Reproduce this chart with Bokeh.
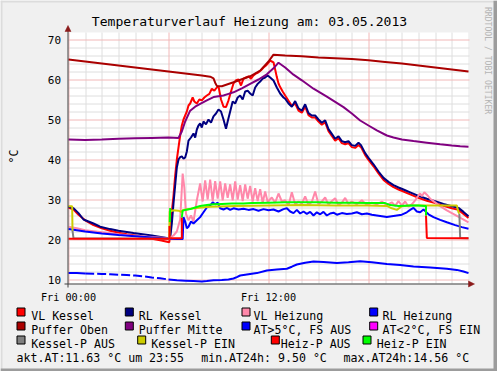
import math
from bokeh.plotting import figure
from bokeh.core.properties import value
from bokeh.embed import file_html
from bokeh.resources import INLINE

NAN = float("nan")
# ---------------- data (hours since 00:00, degC) ----------------
vlk_t = [0, 0.3, 0.6, 1.0, 1.5, 2.0, 2.5, 3.0, 3.5, 4.0, 4.5, 5.0, 5.5, 6.05, 6.1, 6.2, 6.3, 6.4, 6.5,
         6.6, 6.7, 6.8, 6.9, 7.0, 7.1, 7.2, 7.3, 7.45, 7.55, 7.7, 7.85, 8.0, 8.15, 8.3, 8.45, 8.6,
         8.75, 8.9, 9.0, 9.15, 9.3, 9.45, 9.6, 9.75, 9.9, 10.05, 10.2, 10.35, 10.5, 10.65, 10.8,
         10.95, 11.1, 11.25, 11.4, 11.55, 11.7, 11.85, 12.0, 12.1, 12.2, 12.3, 12.4, 12.5, 12.6,
         12.7, 12.85, 13.0, 13.2, 13.4, 13.6, 13.8, 14.0, 14.2, 14.4, 14.6, 14.8, 15.0, 15.2, 15.4,
         15.6, 15.8, 16.0, 16.2, 16.4, 16.6, 16.8, 17.0, 17.2, 17.4, 17.55, 17.8, 18.0, 18.3, 18.6,
         18.9, 19.2, 19.5, 19.8, 20.1, 20.5, 21.0, 21.5, 22.0, 22.5, 23.0, 23.4, 23.7, 24.0]
vlk_v = [28.0, 27.5, 26.2, 24.8, 23.6, 22.8, 22.2, 21.7, 21.3, 21.0, 20.6, 20.2, 19.8, 19.3, 22.5,
         27.0, 31.0, 36.0, 40.0, 43.0, 46.0, 48.5, 50.0, 51.0, 52.0, 53.5, 54.0, 55.5, 54.5, 54.0,
         55.0, 54.8, 55.5, 56.0, 56.4, 57.7, 57.2, 58.0, 58.3, 55.0, 53.2, 53.1, 54.8, 57.0, 59.0,
         59.8, 60.0, 58.5, 60.2, 60.5, 60.8, 60.2, 61.0, 61.5, 61.8, 62.3, 63.0, 63.5, 64.2, 64.7,
         64.5, 64.3, 62.5, 60.6, 59.0, 58.1, 57.0, 56.0, 54.7, 53.4, 54.0, 52.2, 51.7, 53.2, 51.1,
         50.5, 50.5, 49.5, 48.7, 49.3, 47.1, 45.9, 44.7, 45.3, 44.1, 43.8, 44.1, 43.1, 42.9, 43.6,
         43.1, 41.1, 39.9, 38.3, 36.5, 34.9, 33.9, 33.1, 32.5, 32.0, 31.3, 30.4, 29.7, 29.1, 28.4,
         27.8, 27.4, 26.4, 25.4]

rlk_t = [0, 0.3, 0.6, 0.9, 1.5, 1.9, 2.5, 3.0, 3.9, 5.0, 5.9, 6.05, 6.1, 6.2, 6.3, 6.4, 6.5, 6.6,
         6.7, 6.8, 6.9, 7.0, 7.1, 7.2, 7.35, 7.5, 7.6, 7.7, 7.8, 7.9, 8.0, 8.1, 8.25, 8.4, 8.55, 8.7,
         8.85, 9.0, 9.15, 9.3, 9.45, 9.55, 9.7, 9.85, 10.0, 10.15, 10.3, 10.45, 10.6, 10.75, 10.9,
         11.05, 11.2, 11.35, 11.5, 11.65, 11.8, 11.95, 12.1, 12.3, 12.5, 12.7, 12.9, 13.0, 13.2, 13.4,
         13.6, 13.8, 14.0, 14.2, 14.4, 14.6, 14.8, 15.0, 15.2, 15.4, 15.6, 15.8, 16.0, 16.2, 16.4,
         16.6, 16.8, 17.0, 17.2, 17.4, 17.55, 17.8, 18.0, 18.3, 18.6, 18.9, 19.2, 19.5, 19.8, 20.1,
         20.5, 21.0, 21.5, 22.0, 22.5, 23.0, 23.4, 23.7, 24.0]
rlk_v = [28.2, 27.8, 26.6, 25.0, 24.0, 23.2, 22.6, 22.2, 21.6, 21.0, 20.4, 20.2, 20.3, 24.0, 29.0,
         33.5, 38.0, 40.0, 40.6, 40.8, 40.2, 40.5, 42.0, 44.7, 45.5, 46.5, 45.5, 47.5, 48.5, 49.0,
         48.0, 49.5, 48.8, 50.0, 49.2, 50.8, 51.5, 52.5, 52.0, 50.0, 47.7, 49.5, 52.0, 54.5, 54.0,
         55.5, 56.0, 55.0, 57.0, 57.2, 56.5, 56.0, 58.0, 58.9, 59.5, 60.2, 60.5, 61.0, 60.5, 59.75,
         58.0, 56.5, 55.5, 55.2, 54.0, 53.2, 54.6, 52.8, 52.2, 53.8, 51.6, 51.0, 51.0, 50.0, 49.2,
         49.8, 47.6, 46.4, 45.2, 45.8, 44.6, 44.3, 44.6, 43.6, 43.4, 44.2, 43.6, 41.6, 40.4, 38.8,
         37.0, 35.4, 34.4, 33.6, 33.0, 32.5, 31.8, 30.9, 30.2, 29.6, 28.9, 28.3, 27.9, 26.9, 25.8]

vlh_t = [0, 0.5, 1, 2, 3, 4, 5, 6, 6.3, 6.5, 6.7, 6.85, 6.95, 7.05, 7.2, 7.35, 7.5, 7.7, 7.9, 8.05,
         8.2, 8.35, 8.5, 8.65, 8.8, 8.95, 9.1, 9.25, 9.4, 9.55, 9.7, 9.85, 10.0, 10.15, 10.3, 10.45,
         10.6, 10.75, 10.9, 11.05, 11.2, 11.35, 11.5, 11.65, 11.8, 11.95, 12.2, 12.4, 12.6, 12.8,
         13.0, 13.2, 13.4, 13.6, 13.8, 14.0, 14.2, 14.4, 14.6, 14.8, 15.0, 15.2, 15.4, 15.6, 15.8,
         16.0, 16.2, 16.4, 16.6, 16.8, 17.0, 17.3, 17.6, 17.9, 18.2, 18.5, 18.8, 19.1, 19.4, 19.6,
         19.8, 20.0, 20.2, 20.4, 20.6, 20.8, 21.0, 21.1, 21.2, 21.35, 21.5, 21.7, 21.9, 22.2, 22.7,
         23.0, 23.3, 23.6, 24.0]
vlh_v = [23.2, 22.8, 22.3, 21.8, 21.3, 20.9, 20.6, 20.3, 21.0, 22.0, 25.0, 36.5, 33.0, 26.4, 24.8,
         26.0, 24.5, 29.8, 34.0, 29.5, 34.8, 30.0, 35.0, 29.6, 34.6, 30.2, 34.5, 29.8, 34.0, 30.4,
         33.8, 29.8, 34.5, 30.0, 33.6, 29.6, 33.8, 30.2, 33.4, 29.5, 32.8, 29.6, 32.6, 29.2, 32.0,
         29.4, 30.5, 29.2, 31.5, 29.5, 29.8, 28.5, 31.8, 28.8, 29.5, 29.0, 30.8, 28.6, 29.4, 32.0,
         28.8, 29.5, 30.5, 28.7, 29.6, 30.3, 28.6, 29.2, 30.4, 28.9, 29.5, 28.8, 29.8, 28.6, 29.2,
         28.8, 29.5, 28.6, 29.3, 28.4, 29.6, 28.5, 29.5, 28.2, 28.8, 29.8, 31.0, 31.5, 30.8, 31.8,
         31.2, 30.2, 29.6, 28.6, 27.3, 26.6, 25.9, 25.2, 24.3]

rlh_t = [0, 0.5, 1, 2, 3, 4, 5, 6, 6.5, 6.85, 6.9, 7.0, 7.1, 7.2, 7.35, 7.5, 7.7, 7.9, 8.1, 8.3,
         8.5, 8.65, 8.8, 8.95, 9.1, 9.3, 9.5, 9.7, 9.9, 10.2, 10.5, 10.8, 11.1, 11.4, 11.7, 12.0,
         12.3, 12.6, 12.9, 13.1, 13.3, 13.5, 13.7, 13.9, 14.1, 14.3, 14.5, 14.7, 14.9, 15.1, 15.3,
         15.5, 15.7, 15.9, 16.1, 16.4, 16.7, 17.0, 17.3, 17.6, 17.9, 18.2, 18.5, 18.8, 19.1, 19.4,
         19.7, 20.0, 20.3, 20.5, 20.7, 20.9, 21.1, 21.3, 21.45, 21.6, 21.9, 22.3, 22.7, 23.2, 23.6, 24.0]
rlh_v = [22.6, 22.3, 22.0, 21.5, 21.1, 20.8, 20.5, 20.2, 20.1, 20.1, 25.6, 24.5, 22.8, 23.2, 24.5,
         24.0, 24.8, 25.6, 26.8, 28.0, 28.5, 29.3, 28.8, 29.2, 27.8, 27.5, 27.9, 27.4, 27.8, 27.5,
         27.7, 27.4, 27.6, 27.2, 27.6, 27.3, 27.5, 27.0, 27.6, 27.8, 27.0, 26.6, 27.4, 26.5, 27.0,
         26.4, 26.9, 26.0, 26.8, 26.3, 26.9, 26.0, 26.5, 26.7, 26.2, 26.6, 26.4, 26.5, 26.8, 26.3,
         26.5, 26.2, 26.0, 25.8, 25.6, 25.8, 26.0, 26.2, 26.8, 27.4, 27.9, 27.0, 26.8, 27.5, 26.9,
         26.3, 25.6, 24.9, 24.3, 23.6, 23.1, 22.7]

po_t = [0, 2, 4, 6, 8, 8.5, 8.7, 8.8, 8.9, 9.2, 9.9, 10.9, 11.5, 12.0, 12.3, 13, 14, 15, 16, 17, 18,
        19, 20, 21, 22, 23, 24]
po_v = [65.0, 64.0, 63.0, 62.0, 61.0, 60.7, 60.3, 59.2, 58.4, 58.3, 59.3, 60.8, 62.2, 64.5, 66.2,
        66.0, 65.8, 65.5, 65.3, 65.1, 64.8, 64.4, 64.0, 63.5, 63.0, 62.5, 62.0]

pm_t = [0, 1, 2, 3, 4, 5, 6, 6.6, 6.8, 7.0, 7.3, 7.6, 7.9, 8.3, 8.7, 9.0, 9.3, 9.6, 9.9, 10.4, 10.9,
        11.4, 11.9, 12.3, 12.6, 13.0, 13.5, 14.0, 14.7, 15.5, 16.5, 17.0, 17.5, 18.0, 18.5, 19.1,
        19.5, 20.0, 20.7, 21.5, 22.3, 23.0, 23.5, 24]
pm_v = [45.0, 44.9, 45.0, 45.2, 45.3, 45.4, 45.5, 45.4, 47.0, 49.5, 52.2, 53.2, 53.9, 54.8, 55.6,
        55.8, 56.0, 56.4, 56.8, 57.8, 58.9, 60.0, 61.3, 62.8, 64.2, 63.0, 61.2, 59.8, 57.7, 55.7,
        53.1, 51.5, 49.75, 48.5, 47.3, 46.0, 45.5, 45.0, 44.6, 44.2, 43.8, 43.5, 43.3, 43.2]

at_t = [0, 0.5, 1.0, 1.5, 2, 2.5, 3, 3.5, 4, 4.5, 5, 5.5, 6.0, 6.5, 7, 7.5, 8.0, 8.3, 8.7, 9.2, 9.6,
        9.9, 10.1, 10.3, 10.6, 10.9, 11.3, 11.9, 12.5, 13.1, 13.4, 13.7, 14.2, 14.7, 15.3, 16.1,
        16.8, 17.5, 18.2, 19.1, 19.9, 20.7, 21.7, 22.7, 23.3, 23.7, 24]
at_v = [11.6, 11.6, 11.5, 11.45, 11.4, 11.3, 11.2, 11.1, 11.0, 10.8, 10.5, 10.3, 10.0, 9.8, 9.7,
        9.6, 9.5, 9.6, 9.8, 9.9, 10.0, 10.25, 10.6, 11.0, 11.2, 11.4, 11.6, 12.25, 12.5, 12.7, 13.2,
        13.75, 14.2, 14.5, 14.4, 14.1, 14.3, 14.56, 14.3, 13.9, 13.6, 13.25, 13.0, 12.7, 12.4,
        12.0, 11.6]
at_dashed_from, at_dashed_to = 1.0, 6.0

kpa_t = [0.24, 0.3, 6.05, NAN, 23.45, 23.5, 24.0]
kpa_v = [22.2, 20.3, 20.2, NAN, 26.5, 20.4, 20.3]
kpe_t = [0, 0.22, 0.24, NAN, 6.05, 6.07, 6.3, 6.6, 6.75, 6.9, 7.5, 8.5, 10, 12, 14, 16, 18,
         19.1, 19.4, 19.7, 20.0, 20.5, 22, 23.3, 23.4, 23.45]
kpe_v = [28.3, 28.3, 22.2, NAN, 20.0, 27.0, 27.3, 27.2, 26.9, 27.4, 27.8, 28.2, 28.4, 28.5,
         28.6, 28.5, 28.5, 28.4, 27.8, 27.4, 28.3, 28.5, 28.5, 28.5, 26.8, 26.5]
hpa_t = [0, 6.06, 6.06, NAN, 6.13, 6.8, 6.8, NAN, 21.45, 21.5, 24.0]
hpa_v = [20.2, 20.2, 23.4, NAN, 20.3, 20.3, 25.5, NAN, 26.0, 20.4, 20.3]
hpe_t = [6.08, 6.1, NAN, 6.8, 6.85, 7.0, 7.3, 7.6, 7.9, 8.3, 8.7, 9.2, 9.8, 10.5, 11.0,
         12.0, 13.0, 14.0, 15.0, 16.0, 17.0, 18.0, 19.0, 19.3, 19.8, 20.5, 21.0, 21.4, 21.45, 21.45]
hpe_v = [24.4, 27.9, NAN, 25.5, 27.2, 27.4, 27.6, 28.0, 28.4, 28.6, 28.8, 28.9, 29.0, 29.0,
         29.1, 29.2, 29.3, 29.3, 29.3, 29.2, 29.2, 29.1, 29.1, 28.6, 28.4, 28.5, 28.5, 28.4, 28.4, 26.0]

x_ticks = [0, 12]
x_tick_labels = ["Fri 00:00", "Fri 12:00"]
y_ticks = [10, 20, 30, 40, 50, 60, 70]
x_major_grid = [0, 6, 12, 18]
x_minor_grid = list(range(0, 24))
y_minor_grid = list(range(10, 72, 2))

title_text = "Temperaturverlauf Heizung am: 03.05.2013"
unit_text = "°C"
watermark_text = "RRDTOOL / TOBI OETIKER"
legend_rows = [
    [("VL Kessel", "#ff0000"), ("RL Kessel", "#000080"), ("VL Heizung", "#ff88aa"), ("RL Heizung", "#0000ff")],
    [("Puffer Oben", "#aa0000"), ("Puffer Mitte", "#800080"), ("AT>5°C, FS AUS", "#0000ff"), ("AT<2°C, FS EIN", "#ff00ff")],
    [("Kessel-P AUS", "#808080"), ("Kessel-P EIN", "#cccc00"), ("Heiz-P AUS", "#ff0000"), ("Heiz-P EIN", "#00ff00")],
]
stats_texts = ["akt.AT:11.63 °C um 23:55", "min.AT24h: 9.50 °C", "max.AT24h:14.56 °C"]

# ---------------- layout (pixel positions of the 497x371 canvas) ----------------
W, H = 497, 371
PL, PR, PT, PB = 68, 468, 32, 283       # plot area in pixels
X0, X1 = 0.0, 24.0                      # hours
Y0, Y1 = 9.0, 71.75                     # degC
SX = (X1 - X0) / (PR - PL)              # hours per pixel
SY = (Y1 - Y0) / (PB - PT)              # degC per pixel


def hx(px):
    return X0 + (px - PL) * SX


def dy(py):
    return Y1 - (py - PT) * SY


def col_of(h):
    return round(PL + (h - X0) / SX)


def row_of(v):
    return round(PT + (Y1 - v) / SY)


MONO = "DejaVu Sans Mono"
BG = "#f0f0f0"

p = figure(width=W, height=H, x_range=(hx(0), hx(W)), y_range=(dy(H), dy(0)),
           output_backend="svg", toolbar_location=None, x_axis_location=None,
           y_axis_location=None, min_border=0, min_border_left=0, min_border_right=0,
           min_border_top=0, min_border_bottom=0, background_fill_color=BG,
           border_fill_color=BG, outline_line_color=None)
p.xgrid.visible = False
p.ygrid.visible = False

# canvas 3D frame
p.quad(left=[hx(0), hx(0)], right=[hx(W), hx(2)], top=[dy(0), dy(0)], bottom=[dy(2), dy(H)],
       fill_color="#dcdcdc", line_color=None)
p.quad(left=[hx(0), hx(W - 4)], right=[hx(W), hx(W)], top=[dy(H - 3), dy(0)], bottom=[dy(H), dy(H)],
       fill_color="#9c9c9c", line_color=None)

# plot area
p.quad(left=[X0], right=[hx(PR - 0.3)], bottom=[Y0], top=[Y1], fill_color="white", line_color=None)

# grid
MINOR = "#dedede"
MAJOR = "#f2b8b8"
vx_minor = [hx(col_of(h) + 0.5) for h in x_minor_grid if h not in x_major_grid]
p.segment(x0=vx_minor, x1=vx_minor, y0=[Y0] * len(vx_minor), y1=[Y1] * len(vx_minor),
          line_color=MINOR, line_width=1)
hy_minor = [dy(row_of(v) + 0.5) for v in y_minor_grid if v not in y_ticks]
p.segment(x0=[X0] * len(hy_minor), x1=[hx(PR + 1)] * len(hy_minor), y0=hy_minor, y1=hy_minor,
          line_color=MINOR, line_width=1)
vx_major = [hx(col_of(h) + 0.5) for h in x_major_grid]
p.segment(x0=vx_major, x1=vx_major, y0=[Y0] * len(vx_major), y1=[Y1] * len(vx_major),
          line_color=MAJOR, line_width=1)
hy_major = [dy(row_of(v) + 0.5) for v in y_ticks]
p.segment(x0=[X0] * len(hy_major), x1=[hx(PR + 1)] * len(hy_major), y0=hy_major, y1=hy_major,
          line_color=MAJOR, line_width=1)

# series (drawn in legend order)
LW = 2
p.line(vlk_t, vlk_v, line_color="#ff0000", line_width=LW)
p.line(rlk_t, rlk_v, line_color="#000080", line_width=LW)
p.line(vlh_t, vlh_v, line_color="#ff88aa", line_width=LW)
p.line(rlh_t, rlh_v, line_color="#0000ff", line_width=LW)
p.line(po_t, po_v, line_color="#aa0000", line_width=LW)
p.line(pm_t, pm_v, line_color="#800080", line_width=LW)
seg_a = [(t, v) for t, v in zip(at_t, at_v) if t <= at_dashed_from]
seg_b = [(t, v) for t, v in zip(at_t, at_v) if at_dashed_from <= t <= at_dashed_to]
seg_c = [(t, v) for t, v in zip(at_t, at_v) if t >= at_dashed_to]
for seg, dash in ((seg_a, "solid"), (seg_b, "9 3"), (seg_c, "solid")):
    p.line([s[0] for s in seg], [s[1] for s in seg], line_color="#0000ff", line_width=LW,
           line_dash=dash)
p.line(kpa_t, kpa_v, line_color="#808080", line_width=LW)
p.line(kpe_t, kpe_v, line_color="#cccc00", line_width=LW)
p.line(hpa_t, hpa_v, line_color="#ff0000", line_width=LW)
p.line(hpe_t, hpe_v, line_color="#00ff00", line_width=LW)

# axes with arrow heads
AXC = "#404040"
ARC = "#8b1a1a"
ax_row = PB + 0.5
ay_col = PL - 0.5
p.segment(x0=[hx(64), hx(ay_col)], x1=[hx(469), hx(ay_col)], y0=[dy(ax_row), dy(287)],
          y1=[dy(ax_row), dy(30)], line_color=AXC, line_width=1)
p.patches(xs=[[hx(474), hx(468), hx(468)], [hx(ay_col), hx(ay_col - 3), hx(ay_col + 3)]],
          ys=[[dy(ax_row), dy(ax_row - 3), dy(ax_row + 3)], [dy(25), dy(31), dy(31)]],
          fill_color=ARC, line_color=ARC, line_width=0.5)

# tick labels
p.text(x=[hx(60.5)] * len(y_ticks), y=y_ticks, text=[str(v) for v in y_ticks],
       text_align="right", text_baseline="middle", text_font=value(MONO),
       text_font_size=value("11px"), text_color="black")
p.text(x=x_ticks, y=[dy(297.3)] * len(x_ticks), text=x_tick_labels, text_align="center",
       text_baseline="alphabetic", text_font=value(MONO), text_font_size=value("10.2px"),
       text_color="black")

# title, unit, watermark
p.text(x=[hx(249)], y=[dy(20.7)], text=[title_text], text_align="center",
       text_baseline="alphabetic", text_font=value(MONO), text_font_size=value("13.1px"),
       text_color="black")
p.text(x=[hx(13.5)], y=[dy(156)], text=[unit_text], angle=math.pi / 2, text_align="center",
       text_baseline="middle", text_font=value(MONO), text_font_size=value("11.6px"),
       text_color="black")
p.text(x=[hx(487)], y=[dy(6.5)], text=[watermark_text], angle=-math.pi / 2, text_align="left",
       text_baseline="middle", text_font=value(MONO), text_font_size=value("8.1px"),
       text_color="#b4b4b4")

# legend
box_x = [[16, 124.3, 241, 368.7], [16, 124.3, 241, 368.7], [16, 136.7, 270.3, 362]]
txt_x = [[30.7, 138.3, 253, 382], [30.7, 138.3, 253, 382], [30.7, 150.7, 280.3, 376.3]]
row_base = [315, 329, 343]
bl, br, bt, bb, bc, tx, ty, tt = [], [], [], [], [], [], [], []
for r, items in enumerate(legend_rows):
    for c, (name, col) in enumerate(items):
        bx = box_x[r][c]
        yb = row_base[r]
        bl.append(hx(bx + 0.5))
        br.append(hx(bx + 8.5))
        bt.append(dy(yb - 7.5))
        bb.append(dy(yb + 0.5))
        bc.append(col)
        tx.append(hx(txt_x[r][c]))
        ty.append(dy(yb))
        tt.append(name)
p.quad(left=bl, right=br, top=bt, bottom=bb, fill_color=bc, line_color="black", line_width=1)
p.text(x=tx, y=ty, text=tt, text_align="left", text_baseline="alphabetic",
       text_font=value(MONO), text_font_size=value("11.6px"), text_color="black")
p.text(x=[hx(16), hx(200.7), hx(343)], y=[dy(357)] * 3, text=stats_texts, text_align="left",
       text_baseline="alphabetic", text_font=value(MONO), text_font_size=value("11.6px"),
       text_color="black")

open("out.html", "w").write(file_html(p, INLINE))
